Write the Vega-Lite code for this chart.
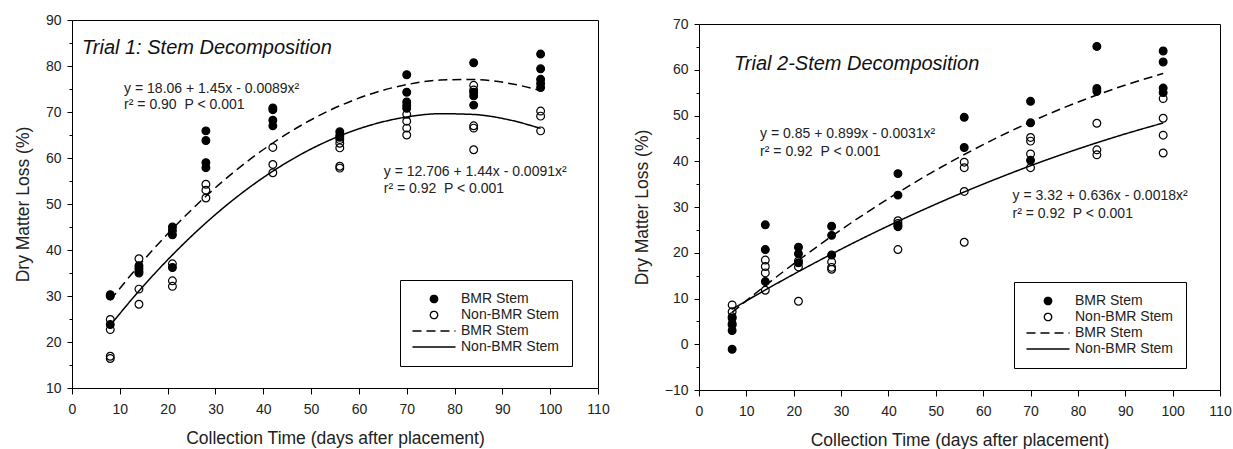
{
  "$schema": "https://vega.github.io/schema/vega-lite/v6.json",
  "padding": {"left": 13, "top": 12, "right": 2, "bottom": 2},
  "background": "white",
  "bounds": "flush",
  "spacing": 101,
  "config": {
    "font": "Liberation Sans",
    "view": {"stroke": "black", "strokeWidth": 1},
    "axis": {"domainColor": "black", "tickColor": "black", "labelColor": "#222", "titleColor": "#222", "labelFont": "Liberation Sans", "titleFont": "Liberation Sans", "labelFontSize": 14, "titleFontSize": 17.5, "titleFontWeight": "normal", "grid": false, "domainWidth": 1, "tickWidth": 1, "labelFlush": false, "labelOverlap": false}
  },
  "datasets": {
    "pts": [
      {"panel": 1, "day": 8, "dml": 30.0, "key": "pBMR"},
      {"panel": 1, "day": 8, "dml": 30.3, "key": "pBMR"},
      {"panel": 1, "day": 8, "dml": 23.8, "key": "pBMR"},
      {"panel": 1, "day": 14, "dml": 36.6, "key": "pBMR"},
      {"panel": 1, "day": 14, "dml": 36.0, "key": "pBMR"},
      {"panel": 1, "day": 14, "dml": 35.4, "key": "pBMR"},
      {"panel": 1, "day": 14, "dml": 35.0, "key": "pBMR"},
      {"panel": 1, "day": 21, "dml": 45.0, "key": "pBMR"},
      {"panel": 1, "day": 21, "dml": 44.2, "key": "pBMR"},
      {"panel": 1, "day": 21, "dml": 43.3, "key": "pBMR"},
      {"panel": 1, "day": 21, "dml": 36.2, "key": "pBMR"},
      {"panel": 1, "day": 28, "dml": 65.9, "key": "pBMR"},
      {"panel": 1, "day": 28, "dml": 63.8, "key": "pBMR"},
      {"panel": 1, "day": 28, "dml": 59.0, "key": "pBMR"},
      {"panel": 1, "day": 28, "dml": 57.9, "key": "pBMR"},
      {"panel": 1, "day": 42, "dml": 70.9, "key": "pBMR"},
      {"panel": 1, "day": 42, "dml": 70.5, "key": "pBMR"},
      {"panel": 1, "day": 42, "dml": 68.2, "key": "pBMR"},
      {"panel": 1, "day": 42, "dml": 67.0, "key": "pBMR"},
      {"panel": 1, "day": 56, "dml": 65.7, "key": "pBMR"},
      {"panel": 1, "day": 56, "dml": 64.9, "key": "pBMR"},
      {"panel": 1, "day": 56, "dml": 64.5, "key": "pBMR"},
      {"panel": 1, "day": 70, "dml": 78.1, "key": "pBMR"},
      {"panel": 1, "day": 70, "dml": 74.3, "key": "pBMR"},
      {"panel": 1, "day": 70, "dml": 72.2, "key": "pBMR"},
      {"panel": 1, "day": 70, "dml": 71.4, "key": "pBMR"},
      {"panel": 1, "day": 70, "dml": 70.8, "key": "pBMR"},
      {"panel": 1, "day": 84, "dml": 80.7, "key": "pBMR"},
      {"panel": 1, "day": 84, "dml": 74.3, "key": "pBMR"},
      {"panel": 1, "day": 84, "dml": 73.5, "key": "pBMR"},
      {"panel": 1, "day": 84, "dml": 71.5, "key": "pBMR"},
      {"panel": 1, "day": 98, "dml": 82.6, "key": "pBMR"},
      {"panel": 1, "day": 98, "dml": 79.4, "key": "pBMR"},
      {"panel": 1, "day": 98, "dml": 77.1, "key": "pBMR"},
      {"panel": 1, "day": 98, "dml": 76.2, "key": "pBMR"},
      {"panel": 1, "day": 98, "dml": 75.3, "key": "pBMR"},
      {"panel": 1, "day": 8, "dml": 24.9, "key": "pNon"},
      {"panel": 1, "day": 8, "dml": 22.7, "key": "pNon"},
      {"panel": 1, "day": 8, "dml": 16.9, "key": "pNon"},
      {"panel": 1, "day": 8, "dml": 16.4, "key": "pNon"},
      {"panel": 1, "day": 14, "dml": 38.1, "key": "pNon"},
      {"panel": 1, "day": 14, "dml": 31.5, "key": "pNon"},
      {"panel": 1, "day": 14, "dml": 28.2, "key": "pNon"},
      {"panel": 1, "day": 21, "dml": 37.0, "key": "pNon"},
      {"panel": 1, "day": 21, "dml": 33.3, "key": "pNon"},
      {"panel": 1, "day": 21, "dml": 32.1, "key": "pNon"},
      {"panel": 1, "day": 28, "dml": 54.3, "key": "pNon"},
      {"panel": 1, "day": 28, "dml": 53.0, "key": "pNon"},
      {"panel": 1, "day": 28, "dml": 51.3, "key": "pNon"},
      {"panel": 1, "day": 42, "dml": 62.3, "key": "pNon"},
      {"panel": 1, "day": 42, "dml": 58.6, "key": "pNon"},
      {"panel": 1, "day": 42, "dml": 56.8, "key": "pNon"},
      {"panel": 1, "day": 56, "dml": 64.0, "key": "pNon"},
      {"panel": 1, "day": 56, "dml": 63.2, "key": "pNon"},
      {"panel": 1, "day": 56, "dml": 62.2, "key": "pNon"},
      {"panel": 1, "day": 56, "dml": 58.2, "key": "pNon"},
      {"panel": 1, "day": 56, "dml": 57.8, "key": "pNon"},
      {"panel": 1, "day": 70, "dml": 69.5, "key": "pNon"},
      {"panel": 1, "day": 70, "dml": 68.0, "key": "pNon"},
      {"panel": 1, "day": 70, "dml": 66.5, "key": "pNon"},
      {"panel": 1, "day": 70, "dml": 65.0, "key": "pNon"},
      {"panel": 1, "day": 84, "dml": 75.8, "key": "pNon"},
      {"panel": 1, "day": 84, "dml": 74.8, "key": "pNon"},
      {"panel": 1, "day": 84, "dml": 67.0, "key": "pNon"},
      {"panel": 1, "day": 84, "dml": 66.5, "key": "pNon"},
      {"panel": 1, "day": 84, "dml": 61.8, "key": "pNon"},
      {"panel": 1, "day": 98, "dml": 70.2, "key": "pNon"},
      {"panel": 1, "day": 98, "dml": 69.1, "key": "pNon"},
      {"panel": 1, "day": 98, "dml": 65.9, "key": "pNon"},
      {"panel": 2, "day": 7, "dml": 5.7, "key": "pBMR"},
      {"panel": 2, "day": 7, "dml": 4.5, "key": "pBMR"},
      {"panel": 2, "day": 7, "dml": 3.0, "key": "pBMR"},
      {"panel": 2, "day": 7, "dml": -1.1, "key": "pBMR"},
      {"panel": 2, "day": 14, "dml": 26.1, "key": "pBMR"},
      {"panel": 2, "day": 14, "dml": 20.7, "key": "pBMR"},
      {"panel": 2, "day": 14, "dml": 13.7, "key": "pBMR"},
      {"panel": 2, "day": 21, "dml": 21.2, "key": "pBMR"},
      {"panel": 2, "day": 21, "dml": 19.8, "key": "pBMR"},
      {"panel": 2, "day": 21, "dml": 17.8, "key": "pBMR"},
      {"panel": 2, "day": 28, "dml": 25.8, "key": "pBMR"},
      {"panel": 2, "day": 28, "dml": 23.8, "key": "pBMR"},
      {"panel": 2, "day": 28, "dml": 19.5, "key": "pBMR"},
      {"panel": 2, "day": 42, "dml": 37.3, "key": "pBMR"},
      {"panel": 2, "day": 42, "dml": 32.6, "key": "pBMR"},
      {"panel": 2, "day": 42, "dml": 26.0, "key": "pBMR"},
      {"panel": 2, "day": 42, "dml": 25.7, "key": "pBMR"},
      {"panel": 2, "day": 56, "dml": 49.6, "key": "pBMR"},
      {"panel": 2, "day": 56, "dml": 43.0, "key": "pBMR"},
      {"panel": 2, "day": 70, "dml": 53.1, "key": "pBMR"},
      {"panel": 2, "day": 70, "dml": 48.4, "key": "pBMR"},
      {"panel": 2, "day": 70, "dml": 40.2, "key": "pBMR"},
      {"panel": 2, "day": 84, "dml": 65.1, "key": "pBMR"},
      {"panel": 2, "day": 84, "dml": 55.9, "key": "pBMR"},
      {"panel": 2, "day": 84, "dml": 55.3, "key": "pBMR"},
      {"panel": 2, "day": 98, "dml": 64.1, "key": "pBMR"},
      {"panel": 2, "day": 98, "dml": 61.7, "key": "pBMR"},
      {"panel": 2, "day": 98, "dml": 56.0, "key": "pBMR"},
      {"panel": 2, "day": 98, "dml": 55.0, "key": "pBMR"},
      {"panel": 2, "day": 7, "dml": 8.6, "key": "pNon"},
      {"panel": 2, "day": 7, "dml": 7.1, "key": "pNon"},
      {"panel": 2, "day": 7, "dml": 6.0, "key": "pNon"},
      {"panel": 2, "day": 7, "dml": 4.2, "key": "pNon"},
      {"panel": 2, "day": 14, "dml": 18.4, "key": "pNon"},
      {"panel": 2, "day": 14, "dml": 17.0, "key": "pNon"},
      {"panel": 2, "day": 14, "dml": 15.6, "key": "pNon"},
      {"panel": 2, "day": 14, "dml": 11.8, "key": "pNon"},
      {"panel": 2, "day": 21, "dml": 18.2, "key": "pNon"},
      {"panel": 2, "day": 21, "dml": 16.9, "key": "pNon"},
      {"panel": 2, "day": 21, "dml": 9.4, "key": "pNon"},
      {"panel": 2, "day": 28, "dml": 18.0, "key": "pNon"},
      {"panel": 2, "day": 28, "dml": 16.8, "key": "pNon"},
      {"panel": 2, "day": 28, "dml": 16.4, "key": "pNon"},
      {"panel": 2, "day": 42, "dml": 27.0, "key": "pNon"},
      {"panel": 2, "day": 42, "dml": 26.4, "key": "pNon"},
      {"panel": 2, "day": 42, "dml": 20.7, "key": "pNon"},
      {"panel": 2, "day": 56, "dml": 39.8, "key": "pNon"},
      {"panel": 2, "day": 56, "dml": 38.6, "key": "pNon"},
      {"panel": 2, "day": 56, "dml": 33.4, "key": "pNon"},
      {"panel": 2, "day": 56, "dml": 22.3, "key": "pNon"},
      {"panel": 2, "day": 70, "dml": 45.2, "key": "pNon"},
      {"panel": 2, "day": 70, "dml": 44.4, "key": "pNon"},
      {"panel": 2, "day": 70, "dml": 41.6, "key": "pNon"},
      {"panel": 2, "day": 70, "dml": 38.6, "key": "pNon"},
      {"panel": 2, "day": 84, "dml": 48.3, "key": "pNon"},
      {"panel": 2, "day": 84, "dml": 42.5, "key": "pNon"},
      {"panel": 2, "day": 84, "dml": 41.4, "key": "pNon"},
      {"panel": 2, "day": 98, "dml": 53.7, "key": "pNon"},
      {"panel": 2, "day": 98, "dml": 49.4, "key": "pNon"},
      {"panel": 2, "day": 98, "dml": 45.7, "key": "pNon"},
      {"panel": 2, "day": 98, "dml": 41.8, "key": "pNon"}
    ],
    "fits": [
      {"panel": 1, "day": 8, "dml": 29.09, "key": "fBMR"},
      {"panel": 1, "day": 14, "dml": 36.62, "key": "fBMR"},
      {"panel": 1, "day": 21, "dml": 44.59, "key": "fBMR"},
      {"panel": 1, "day": 28, "dml": 51.68, "key": "fBMR"},
      {"panel": 1, "day": 35, "dml": 57.91, "key": "fBMR"},
      {"panel": 1, "day": 42, "dml": 63.26, "key": "fBMR"},
      {"panel": 1, "day": 49, "dml": 67.74, "key": "fBMR"},
      {"panel": 1, "day": 56, "dml": 71.35, "key": "fBMR"},
      {"panel": 1, "day": 63, "dml": 74.09, "key": "fBMR"},
      {"panel": 1, "day": 70, "dml": 75.95, "key": "fBMR"},
      {"panel": 1, "day": 77, "dml": 76.94, "key": "fBMR"},
      {"panel": 1, "day": 84, "dml": 77.06, "key": "fBMR"},
      {"panel": 1, "day": 91, "dml": 76.31, "key": "fBMR"},
      {"panel": 1, "day": 98, "dml": 74.68, "key": "fBMR"},
      {"panel": 1, "day": 8, "dml": 23.64, "key": "fNon"},
      {"panel": 1, "day": 14, "dml": 31.08, "key": "fNon"},
      {"panel": 1, "day": 21, "dml": 38.93, "key": "fNon"},
      {"panel": 1, "day": 28, "dml": 45.89, "key": "fNon"},
      {"panel": 1, "day": 35, "dml": 51.96, "key": "fNon"},
      {"panel": 1, "day": 42, "dml": 57.13, "key": "fNon"},
      {"panel": 1, "day": 49, "dml": 61.42, "key": "fNon"},
      {"panel": 1, "day": 56, "dml": 64.81, "key": "fNon"},
      {"panel": 1, "day": 63, "dml": 67.31, "key": "fNon"},
      {"panel": 1, "day": 70, "dml": 68.92, "key": "fNon"},
      {"panel": 1, "day": 77, "dml": 69.63, "key": "fNon"},
      {"panel": 1, "day": 84, "dml": 69.46, "key": "fNon"},
      {"panel": 1, "day": 91, "dml": 68.39, "key": "fNon"},
      {"panel": 1, "day": 98, "dml": 66.43, "key": "fNon"},
      {"panel": 2, "day": 7, "dml": 6.99, "key": "fBMR"},
      {"panel": 2, "day": 14, "dml": 12.83, "key": "fBMR"},
      {"panel": 2, "day": 21, "dml": 18.36, "key": "fBMR"},
      {"panel": 2, "day": 28, "dml": 23.59, "key": "fBMR"},
      {"panel": 2, "day": 35, "dml": 28.52, "key": "fBMR"},
      {"panel": 2, "day": 42, "dml": 33.14, "key": "fBMR"},
      {"panel": 2, "day": 49, "dml": 37.46, "key": "fBMR"},
      {"panel": 2, "day": 56, "dml": 41.47, "key": "fBMR"},
      {"panel": 2, "day": 63, "dml": 45.18, "key": "fBMR"},
      {"panel": 2, "day": 70, "dml": 48.59, "key": "fBMR"},
      {"panel": 2, "day": 77, "dml": 51.69, "key": "fBMR"},
      {"panel": 2, "day": 84, "dml": 54.49, "key": "fBMR"},
      {"panel": 2, "day": 91, "dml": 56.99, "key": "fBMR"},
      {"panel": 2, "day": 98, "dml": 59.18, "key": "fBMR"},
      {"panel": 2, "day": 7, "dml": 7.68, "key": "fNon"},
      {"panel": 2, "day": 14, "dml": 11.87, "key": "fNon"},
      {"panel": 2, "day": 21, "dml": 15.88, "key": "fNon"},
      {"panel": 2, "day": 28, "dml": 19.72, "key": "fNon"},
      {"panel": 2, "day": 35, "dml": 23.38, "key": "fNon"},
      {"panel": 2, "day": 42, "dml": 26.86, "key": "fNon"},
      {"panel": 2, "day": 49, "dml": 30.16, "key": "fNon"},
      {"panel": 2, "day": 56, "dml": 33.29, "key": "fNon"},
      {"panel": 2, "day": 63, "dml": 36.24, "key": "fNon"},
      {"panel": 2, "day": 70, "dml": 39.02, "key": "fNon"},
      {"panel": 2, "day": 77, "dml": 41.62, "key": "fNon"},
      {"panel": 2, "day": 84, "dml": 44.04, "key": "fNon"},
      {"panel": 2, "day": 91, "dml": 46.29, "key": "fNon"},
      {"panel": 2, "day": 98, "dml": 48.36, "key": "fNon"}
    ],
    "notes": [
      {"panel": 1, "role": "title", "day": 2.1, "dml": 82.6, "text": "Trial 1: Stem Decomposition"},
      {"panel": 1, "role": "eq", "day": 10.9, "dml": 74.2, "text": "y = 18.06 + 1.45x - 0.0089x²"},
      {"panel": 1, "role": "eq", "dml": 70.6, "day": 10.9, "text": "r² = 0.90\u00a0 P < 0.001"},
      {"panel": 1, "role": "eq", "day": 65.2, "dml": 56.1, "text": "y = 12.706 + 1.44x - 0.0091x²"},
      {"panel": 1, "role": "eq", "day": 65.2, "dml": 52.4, "text": "r² = 0.92\u00a0 P < 0.001"},
      {"panel": 2, "role": "title", "day": 7.4, "dml": 59.95, "text": "Trial 2-Stem Decomposition"},
      {"panel": 2, "role": "eq", "day": 12.9, "dml": 45.15, "text": "y = 0.85 + 0.899x - 0.0031x²"},
      {"panel": 2, "role": "eq", "day": 12.9, "dml": 41.15, "text": "r² = 0.92\u00a0 P < 0.001"},
      {"panel": 2, "role": "eq", "day": 66.2, "dml": 31.5, "text": "y = 3.32 + 0.636x - 0.0018x²"},
      {"panel": 2, "role": "eq", "day": 66.2, "dml": 27.65, "text": "r² = 0.92\u00a0 P < 0.001"}
    ]
  },
  "resolve": {
    "scale": {"shape": "independent", "fill": "independent", "stroke": "independent", "strokeDash": "independent"},
    "legend": {"shape": "independent", "fill": "independent", "stroke": "independent", "strokeDash": "independent"}
  },
  "hconcat": [
    {
      "width": 526,
      "height": 368,
      "encoding": {
        "x": {"field": "day", "type": "quantitative", "scale": {"domain": [0, 110], "nice": false, "zero": false},
          "axis": {"values": [0, 10, 20, 30, 40, 50, 60, 70, 80, 90, 100, 110], "tickSize": 6, "labelPadding": 8, "title": "Collection Time (days after placement)", "titlePadding": 13}},
        "y": {"field": "dml", "type": "quantitative", "scale": {"domain": [10, 90], "nice": false, "zero": false},
          "axis": {"values": [10, 15, 20, 25, 30, 35, 40, 45, 50, 55, 60, 65, 70, 75, 80, 85, 90], "labelExpr": "datum.value % 10 === 0 ? datum.label : ''", "tickSize": {"condition": {"test": "datum.value % 10 !== 0", "value": 3}, "value": 5}, "labelPadding": 6, "title": "Dry Matter Loss (%)", "titlePadding": 13}}
      },
      "layer": [
        {
          "data": {"name": "fits"},
          "transform": [{"filter": "datum.panel === 1"}],
          "mark": {"type": "line", "strokeWidth": 1.5, "interpolate": "monotone"},
          "encoding": {
            "strokeDash": {"field": "key", "type": "nominal", "scale": {"domain": ["pBMR", "pNon", "fBMR", "fNon"], "range": [[1, 0], [1, 0], [9, 5], [1, 0]]},
              "legend": {"title": null, "orient": "none", "legendX": 328, "legendY": 260, "strokeColor": "black", "fillColor": "white", "padding": 12, "symbolOffset": 15, "labelOffset": 20, "rowPadding": 2, "labelFontSize": 14, "labelFont": "Liberation Sans", "labelColor": "#222", "symbolSize": 55, "symbolStrokeWidth": 1.3, "symbolOpacity": 1, "labelExpr": "datum.label == 'pBMR' || datum.label == 'fBMR' ? 'BMR Stem' : 'Non-BMR Stem'"}},
            "stroke": {"field": "key", "type": "nominal", "scale": {"domain": ["pBMR", "pNon", "fBMR", "fNon"], "range": ["black", "black", "black", "black"]},
              "legend": {"title": null, "orient": "none", "legendX": 328, "legendY": 260, "strokeColor": "black", "fillColor": "white", "padding": 12, "symbolOffset": 15, "labelOffset": 20, "rowPadding": 2, "labelFontSize": 14, "labelFont": "Liberation Sans", "labelColor": "#222", "symbolSize": 55, "symbolStrokeWidth": 1.3, "symbolOpacity": 1, "labelExpr": "datum.label == 'pBMR' || datum.label == 'fBMR' ? 'BMR Stem' : 'Non-BMR Stem'"}}
          }
        },
        {
          "data": {"name": "pts"},
          "transform": [{"filter": "datum.panel === 1"}],
          "mark": {"type": "point", "filled": true, "size": 60, "strokeWidth": 1.2, "opacity": 1},
          "encoding": {
            "shape": {"field": "key", "type": "nominal", "scale": {"domain": ["pBMR", "pNon", "fBMR", "fNon"], "range": ["circle", "circle", "M-5.8,0L5.8,0", "M-5.8,0L5.8,0"]},
              "legend": {"title": null, "orient": "none", "legendX": 328, "legendY": 260, "strokeColor": "black", "fillColor": "white", "padding": 12, "symbolOffset": 15, "labelOffset": 20, "rowPadding": 2, "labelFontSize": 14, "labelFont": "Liberation Sans", "labelColor": "#222", "symbolSize": 55, "symbolStrokeWidth": 1.3, "symbolOpacity": 1, "labelExpr": "datum.label == 'pBMR' || datum.label == 'fBMR' ? 'BMR Stem' : 'Non-BMR Stem'"}},
            "fill": {"field": "key", "type": "nominal", "scale": {"domain": ["pBMR", "pNon", "fBMR", "fNon"], "range": ["black", "transparent", "transparent", "transparent"]},
              "legend": {"title": null, "orient": "none", "legendX": 328, "legendY": 260, "strokeColor": "black", "fillColor": "white", "padding": 12, "symbolOffset": 15, "labelOffset": 20, "rowPadding": 2, "labelFontSize": 14, "labelFont": "Liberation Sans", "labelColor": "#222", "symbolSize": 55, "symbolStrokeWidth": 1.3, "symbolOpacity": 1, "labelExpr": "datum.label == 'pBMR' || datum.label == 'fBMR' ? 'BMR Stem' : 'Non-BMR Stem'"}},
            "stroke": {"field": "key", "type": "nominal"}
          }
        },
        {
          "data": {"name": "notes"},
          "transform": [{"filter": "datum.panel === 1 && datum.role === 'eq'"}],
          "mark": {"type": "text", "align": "left", "baseline": "alphabetic", "fontSize": 14, "font": "Liberation Sans", "color": "#222"},
          "encoding": {"text": {"field": "text", "type": "nominal"}}
        },
        {
          "data": {"name": "notes"},
          "transform": [{"filter": "datum.panel === 1 && datum.role === 'title'"}],
          "mark": {"type": "text", "align": "left", "baseline": "alphabetic", "fontSize": 20, "fontStyle": "italic", "font": "Liberation Sans", "color": "#111"},
          "encoding": {"text": {"field": "text", "type": "nominal"}}
        }
      ]
    },
    {
      "width": 521,
      "height": 370,
      "view": {"stroke": null},
      "resolve": {"axis": {"x": "independent", "y": "independent"}},
      "layer": [
        {
          "data": {"name": "fits"},
          "transform": [{"filter": "datum.panel === 2"}],
          "mark": {"type": "line", "strokeWidth": 1.5, "interpolate": "monotone"},
          "encoding": {
            "x": {"field": "day", "type": "quantitative", "scale": {"domain": [0, 110], "nice": false, "zero": false},
              "axis": {"orient": "bottom", "values": [0, 10, 20, 30, 40, 50, 60, 70, 80, 90, 100, 110], "tickSize": 6, "labelPadding": 8, "title": "Collection Time (days after placement)", "titlePadding": 13}},
            "y": {"field": "dml", "type": "quantitative", "scale": {"domain": [-10, 70], "range": [370, 4], "nice": false, "zero": false},
              "axis": {"orient": "left", "values": [-10, -5, 0, 5, 10, 15, 20, 25, 30, 35, 40, 45, 50, 55, 60, 65, 70], "labelExpr": "datum.value % 10 === 0 ? datum.label : ''", "tickSize": {"condition": {"test": "datum.value % 10 !== 0", "value": 3}, "value": 5}, "labelPadding": 6, "title": "Dry Matter Loss (%)", "titlePadding": 13}},
            "strokeDash": {"field": "key", "type": "nominal", "scale": {"domain": ["pBMR", "pNon", "fBMR", "fNon"], "range": [[1, 0], [1, 0], [9, 5], [1, 0]]},
              "legend": {"title": null, "orient": "none", "legendX": 315, "legendY": 262, "strokeColor": "black", "fillColor": "white", "padding": 12, "symbolOffset": 15, "labelOffset": 20, "rowPadding": 2, "labelFontSize": 14, "labelFont": "Liberation Sans", "labelColor": "#222", "symbolSize": 55, "symbolStrokeWidth": 1.3, "symbolOpacity": 1, "labelExpr": "datum.label == 'pBMR' || datum.label == 'fBMR' ? 'BMR Stem' : 'Non-BMR Stem'"}},
            "stroke": {"field": "key", "type": "nominal", "scale": {"domain": ["pBMR", "pNon", "fBMR", "fNon"], "range": ["black", "black", "black", "black"]},
              "legend": {"title": null, "orient": "none", "legendX": 315, "legendY": 262, "strokeColor": "black", "fillColor": "white", "padding": 12, "symbolOffset": 15, "labelOffset": 20, "rowPadding": 2, "labelFontSize": 14, "labelFont": "Liberation Sans", "labelColor": "#222", "symbolSize": 55, "symbolStrokeWidth": 1.3, "symbolOpacity": 1, "labelExpr": "datum.label == 'pBMR' || datum.label == 'fBMR' ? 'BMR Stem' : 'Non-BMR Stem'"}}
          }
        },
        {
          "data": {"name": "pts"},
          "transform": [{"filter": "datum.panel === 2"}],
          "mark": {"type": "point", "filled": true, "size": 60, "strokeWidth": 1.2, "opacity": 1},
          "encoding": {
            "x": {"field": "day", "type": "quantitative", "axis": null},
            "y": {"field": "dml", "type": "quantitative", "axis": null},
            "shape": {"field": "key", "type": "nominal", "scale": {"domain": ["pBMR", "pNon", "fBMR", "fNon"], "range": ["circle", "circle", "M-5.8,0L5.8,0", "M-5.8,0L5.8,0"]},
              "legend": {"title": null, "orient": "none", "legendX": 315, "legendY": 262, "strokeColor": "black", "fillColor": "white", "padding": 12, "symbolOffset": 15, "labelOffset": 20, "rowPadding": 2, "labelFontSize": 14, "labelFont": "Liberation Sans", "labelColor": "#222", "symbolSize": 55, "symbolStrokeWidth": 1.3, "symbolOpacity": 1, "labelExpr": "datum.label == 'pBMR' || datum.label == 'fBMR' ? 'BMR Stem' : 'Non-BMR Stem'"}},
            "fill": {"field": "key", "type": "nominal", "scale": {"domain": ["pBMR", "pNon", "fBMR", "fNon"], "range": ["black", "transparent", "transparent", "transparent"]},
              "legend": {"title": null, "orient": "none", "legendX": 315, "legendY": 262, "strokeColor": "black", "fillColor": "white", "padding": 12, "symbolOffset": 15, "labelOffset": 20, "rowPadding": 2, "labelFontSize": 14, "labelFont": "Liberation Sans", "labelColor": "#222", "symbolSize": 55, "symbolStrokeWidth": 1.3, "symbolOpacity": 1, "labelExpr": "datum.label == 'pBMR' || datum.label == 'fBMR' ? 'BMR Stem' : 'Non-BMR Stem'"}},
            "stroke": {"field": "key", "type": "nominal"}
          }
        },
        {
          "data": {"name": "notes"},
          "transform": [{"filter": "datum.panel === 2 && datum.role === 'eq'"}],
          "mark": {"type": "text", "align": "left", "baseline": "alphabetic", "fontSize": 14, "font": "Liberation Sans", "color": "#222"},
          "encoding": {
            "x": {"field": "day", "type": "quantitative", "axis": null},
            "y": {"field": "dml", "type": "quantitative", "axis": null},
            "text": {"field": "text", "type": "nominal"}
          }
        },
        {
          "data": {"name": "notes"},
          "transform": [{"filter": "datum.panel === 2 && datum.role === 'title'"}],
          "mark": {"type": "text", "align": "left", "baseline": "alphabetic", "fontSize": 20, "fontStyle": "italic", "font": "Liberation Sans", "color": "#111"},
          "encoding": {
            "x": {"field": "day", "type": "quantitative", "axis": {"orient": "top", "offset": -4, "labels": false, "ticks": false, "title": null, "domain": true}},
            "y": {"field": "dml", "type": "quantitative", "axis": {"orient": "right", "labels": false, "ticks": false, "title": null, "domain": true}},
            "text": {"field": "text", "type": "nominal"}
          }
        }
      ]
    }
  ]
}
